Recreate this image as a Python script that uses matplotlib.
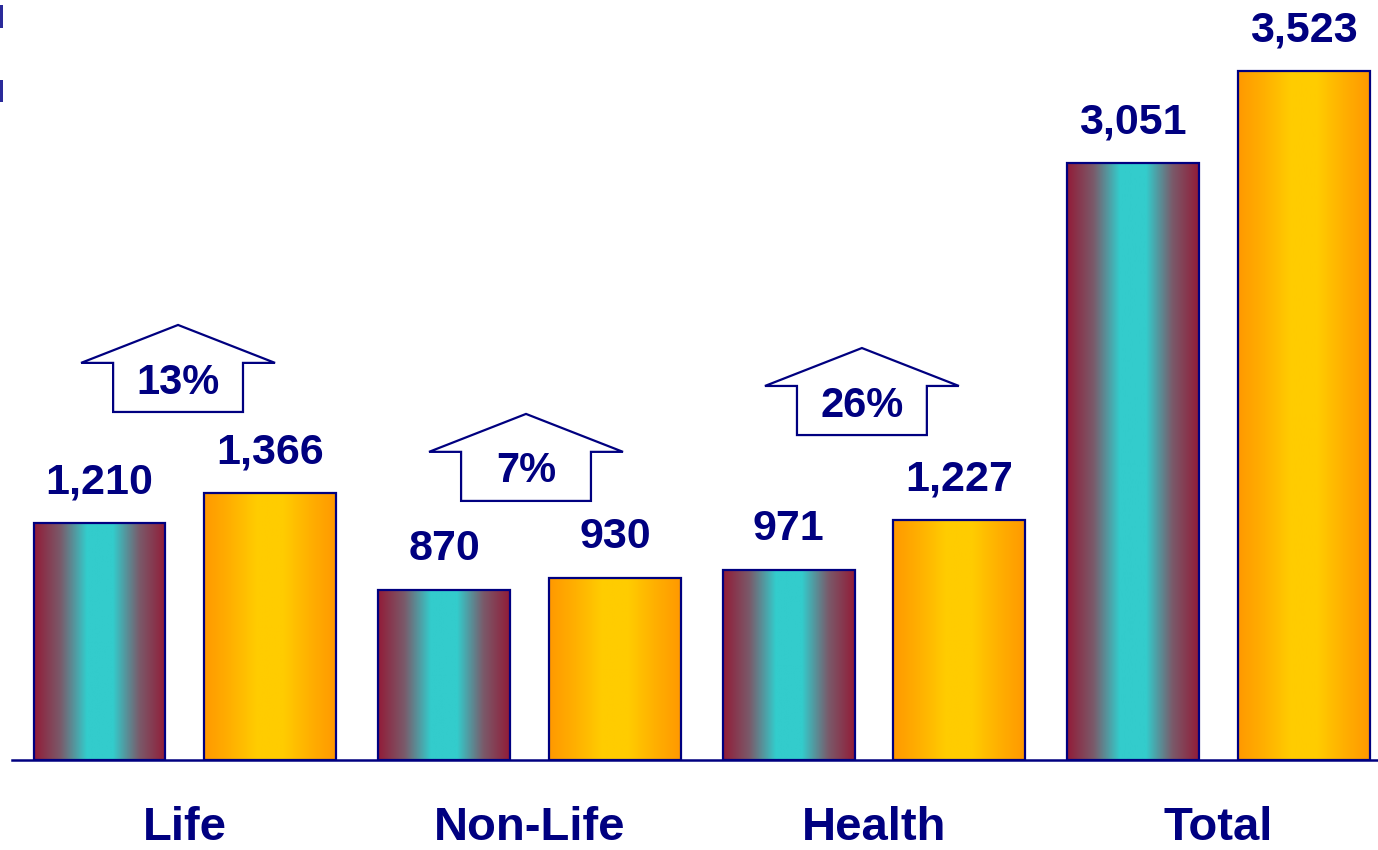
import matplotlib

matplotlib.use("Agg")
import matplotlib.pyplot as plt
import numpy as np
from matplotlib.colors import LinearSegmentedColormap
from matplotlib.patches import Polygon, Rectangle

plt.rcParams["font.family"] = ["Liberation Sans", "DejaVu Sans"]

# Data
categories = ["Life", "Non-Life", "Health", "Total"]
prev_values = [1210, 870, 971, 3051]
curr_values = [1366, 930, 1227, 3523]
growth_labels = ["13%", "7%", "26%"]
# base of each growth arrow (data units) and small x nudge
arrow_base = [1780, 1325, 1662]
arrow_dx = [-0.02, -0.01, -0.035]

NAVY = "#000080"
teal_cmap = LinearSegmentedColormap.from_list(
    "teal", ["#921c38", "#7a5a6a", "#33cccc", "#33cccc", "#7a5a6a", "#921c38"])
gold_cmap = LinearSegmentedColormap.from_list(
    "gold", ["#ff9900", "#ffb000", "#ffcc00", "#ffcc00", "#ffb000", "#ff9900"])

W, H = 1378, 850
fig = plt.figure(figsize=(W / 100, H / 100), dpi=100)
ax = fig.add_axes([12 / W, 90 / H, 1 - 12 / W, 1 - 90 / H])

x = np.arange(len(categories))
bw = 0.383
off = 0.248


def gradient_bars(xs, vals, cmap):
    bars = ax.bar(xs, vals, width=bw, facecolor="none", edgecolor=NAVY,
                  linewidth=1.6, zorder=3)
    grad = np.linspace(0, 1, 256).reshape(1, -1)
    for b in bars:
        x0, y0 = b.get_x(), b.get_y()
        im = ax.imshow(grad, cmap=cmap, aspect="auto", zorder=2,
                       extent=(x0, x0 + b.get_width(), y0, y0 + b.get_height()))
        im.set_clip_path(b)
    for xi, v in zip(xs, vals):
        ax.annotate(f"{v:,}", (xi, v), xytext=(0, 15), textcoords="offset points",
                    ha="center", va="bottom", fontsize=31, fontweight="bold",
                    color=NAVY)
    return bars


gradient_bars(x - off, prev_values, teal_cmap)
gradient_bars(x + off, curr_values, gold_cmap)

# growth arrows
wing, stem = 0.563 / 2, 0.377 / 2
stem_h, head_h = 251, 194
for i, (lab, yb, dx) in enumerate(zip(growth_labels, arrow_base, arrow_dx)):
    cx = x[i] + dx
    pts = [(cx - stem, yb), (cx + stem, yb), (cx + stem, yb + stem_h),
           (cx + wing, yb + stem_h), (cx, yb + stem_h + head_h),
           (cx - wing, yb + stem_h), (cx - stem, yb + stem_h)]
    ax.add_patch(Polygon(pts, closed=True, facecolor="white", edgecolor=NAVY,
                         linewidth=1.6, zorder=4))
    ax.text(cx, yb + stem_h * 0.6, lab, ha="center", va="center", fontsize=30,
            fontweight="bold", color=NAVY, zorder=5)

ax.set_xlim(-0.502, 3.463)
ax.set_ylim(0, 3887)
ax.set_xticks(x, categories)
ax.tick_params(axis="x", length=0, pad=33, labelsize=34, labelcolor=NAVY)
for lbl in ax.get_xticklabels():
    lbl.set_fontweight("bold")
ax.set_yticks([])
for s in ["top", "right", "left"]:
    ax.spines[s].set_visible(False)
ax.spines["bottom"].set_color(NAVY)
ax.spines["bottom"].set_linewidth(1.8)
ax.spines["bottom"].set_zorder(4)

# stray tick marks at the left edge of the slide
for top, bot in [(5, 28), (80, 102)]:
    fig.add_artist(Rectangle((0, 1 - bot / H), 3 / W, (bot - top) / H,
                             transform=fig.transFigure, color="#2a2a9a", lw=0))

fig.savefig("out.png", dpi=100)
